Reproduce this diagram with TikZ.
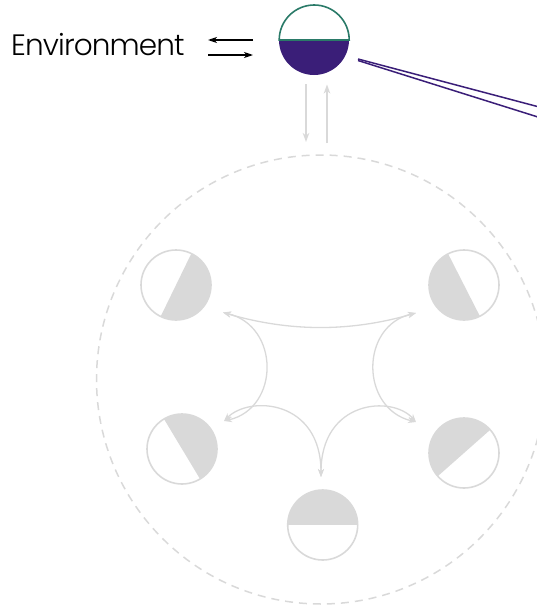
\documentclass[tikz,border=0pt]{standalone}
\usepackage{fontspec}
\newfontfamily\envfont{Poppins Light}[LetterSpace=-3]
\usetikzlibrary{arrows.meta,calc}
\definecolor{lg}{RGB}{217,217,217}
\definecolor{tealc}{RGB}{42,122,104}
\definecolor{purp}{RGB}{58,30,120}
\begin{document}
\begin{tikzpicture}[x=1pt,y=-1pt,
  halfc/.style={circle, draw=lg, line width=1.6pt, minimum size=70pt, inner sep=0pt,
    path picture={\fill[lg] (path picture bounding box.center) ++(#1:60) -- ++(#1+90:60) -- ++(#1+180:120) -- ++(#1+270:60) -- cycle;}},
  curv/.style={draw=lg, line width=1.3pt, {Stealth[length=8pt,width=6pt,inset=2.5pt]}-{Stealth[length=8pt,width=6pt,inset=2.5pt]}},
  grayarrow/.style={draw=lg, line width=1.3pt, -{Stealth[length=9pt,width=6.5pt,inset=2.5pt]}},
  envarrow/.style={draw=black, line width=1.2pt, -{Stealth[length=9pt,width=6pt,inset=2.5pt]}},
  purpline/.style={draw=purp, line width=1.5pt}]
\useasboundingbox (0,0) rectangle (537,608);
\clip (0,0) rectangle (537,608);

% group circle
\node[circle, draw=lg, dash pattern=on 8pt off 6pt, line width=1.5pt, minimum size=449pt, inner sep=0pt] (grp) at (321,379.5) {};

% agent
\node[circle, minimum size=70pt, inner sep=0pt,
  path picture={\fill[purp] (path picture bounding box.center) ++(0:60) -- ++(90:60) -- ++(180:120) -- ++(270:60) -- cycle;}] (agent) at (314,40) {};
\draw[tealc, line width=1.6pt] (agent.east) arc[start angle=0, end angle=180, radius=35pt] -- cycle;

% environment
\node[anchor=base west, inner sep=0pt, font=\envfont\fontsize{29.5}{34}\selectfont] (env) at (11,55.8) {Environment};
\coordinate (ea) at (253,40);
\coordinate (eb) at (208,40);
\coordinate (ec) at (208,55);
\coordinate (ed) at (253,55);
\draw[envarrow] (ea) -- (eb);
\draw[envarrow] (ec) -- (ed);

% purple lines
\coordinate (p1) at (358,59);
\coordinate (p2) at (358,60.5);
\coordinate (q1) at (600,123.1);
\coordinate (q2) at (600,136.5);
\draw[purpline] (p1) -- (q1);
\draw[purpline] (p2) -- (q2);

% gray arrows between agent and group
\coordinate (g1) at (306,84);
\coordinate (g2) at (306,142);
\coordinate (g3) at (327,143);
\coordinate (g4) at (327,84.5);
\draw[grayarrow] (g1) -- (g2);
\draw[grayarrow] (g3) -- (g4);

% member circles
\node[halfc=-64] (c1) at (176,285) {};
\node[halfc=63] (c2) at (464,285) {};
\node[halfc=-121] (c3) at (182,449) {};
\node[halfc=138.5] (c4) at (464,453) {};
\node[halfc=180] (c5) at (322.7,525) {};

% interaction curves
\coordinate (h1) at (223,312.5);
\coordinate (h2) at (416,313);
\coordinate (h3) at (224,421);
\coordinate (h4) at (416,422);
\coordinate (h5) at (321,477);
\draw[curv] (h1) .. controls (290,332) and (350,332) .. (h2);
\draw[curv] (h1) .. controls (280,326) and (280,408) .. (h3);
\draw[curv] (h2) .. controls (360,326) and (360,408) .. (h4);
\draw[curv] (h3) .. controls (250,395) and (321,400) .. (h5);
\draw[curv] (h4) .. controls (392,395) and (321,400) .. (h5);
\end{tikzpicture}
\end{document}
